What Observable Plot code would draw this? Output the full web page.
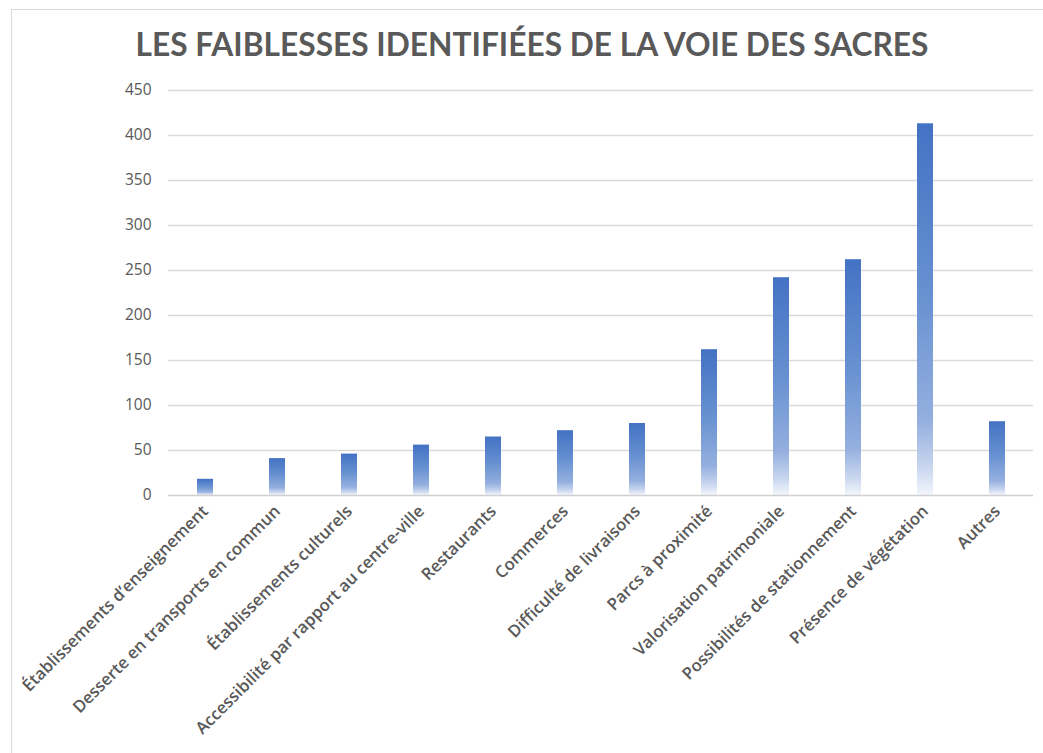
<!DOCTYPE html>
<html>
<head>
<meta charset="utf-8">
<script src="https://cdn.jsdelivr.net/npm/d3@7"></script>
<script src="https://cdn.jsdelivr.net/npm/@observablehq/plot@0.6"></script>
<style>
  html, body { margin: 0; padding: 0; background: #fff; }
  body { width: 1043px; height: 753px; position: relative; overflow: hidden; }
  #frame { position: absolute; left: 11px; top: 9px; width: 1040px; height: 750px; border: 1px solid #d9d9d9; box-sizing: border-box; }
  #title { position: absolute; left: 0; top: 25px; width: 1064px; text-align: center; font-family: Lato, "Open Sans", sans-serif; font-weight: bold; font-size: 31.7px; color: #595959; }
  #chart { position: absolute; left: 0; top: 70px; }
</style>
</head>
<body>
<div id="frame"></div>
<div id="title">LES FAIBLESSES IDENTIFIÉES DE LA VOIE DES SACRES</div>
<div id="chart"></div>
<script>
const categories = [
  "Établissements d’enseignement",
  "Desserte en transports en commun",
  "Établissements culturels",
  "Accessibilité par rapport au centre-ville",
  "Restaurants",
  "Commerces",
  "Difficulté de livraisons",
  "Parcs à proximité",
  "Valorisation patrimoniale",
  "Possibilités de stationnement",
  "Présence de végétation",
  "Autres"
];
const values = [18, 41, 46, 56, 65, 72, 80, 162, 242, 262, 413, 82];
const yTicks = [0, 50, 100, 150, 200, 250, 300, 350, 400, 450];

const data = categories.map((c, i) => ({category: c, value: values[i]}));

const plot = Plot.plot({
  width: 1043,
  height: 683,
  marginTop: 20,
  marginBottom: 258,
  marginLeft: 168,
  marginRight: 10,
  style: {fontFamily: "'Open Sans', sans-serif", fontSize: "15px", color: "#595959", background: "transparent", overflow: "visible"},
  x: {domain: categories, paddingInner: 0.78, paddingOuter: 0.39, label: null},
  y: {domain: [0, 450], ticks: yTicks, label: null},
  marks: [
    Plot.gridY(yTicks.filter(d => d > 0), {stroke: "#d9d9d9", strokeOpacity: 1, strokeWidth: 1.5}),
    Plot.barY(data, {x: "category", y: "value", fill: "url(#barGrad)"}),
    Plot.ruleY([0], {stroke: "#d0d0d0", strokeWidth: 1.5}),
    Plot.axisY({ticks: yTicks, tickSize: 0, tickPadding: 17, fill: "#595959", fontSize: 15.5}),
    Plot.axisX({tickSize: 0, tickPadding: 13, tickRotate: -45, fill: "#595959", fontSize: 16.7, fontWeight: 600})
  ]
});

const svg = d3.select(plot);
const defs = svg.insert("defs", ":first-child");
const grad = defs.append("linearGradient")
  .attr("id", "barGrad").attr("x1", 0).attr("y1", 0).attr("x2", 0).attr("y2", 1);
[[0, "#4472c4"], [0.45, "#6690d0"], [0.8, "#94afdf"], [0.92, "#c6d4ee"], [1, "#f3f6fc"]].forEach(([o, c]) =>
  grad.append("stop").attr("offset", o).attr("stop-color", c));

document.getElementById("chart").appendChild(plot);
</script>
</body>
</html>
